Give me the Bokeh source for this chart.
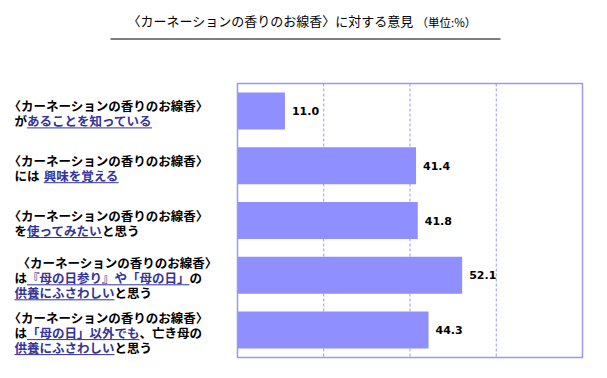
from bokeh.plotting import figure
from bokeh.models import Range1d, ColumnDataSource
from bokeh.core.properties import value
from bokeh.embed import file_html
from bokeh.resources import INLINE

# ---------------- data ----------------
title_text = "〈カーネーションの香りのお線香〉に対する意見"
unit_text = "（単位:%）"
categories = [
    "〈カーネーションの香りのお線香〉があることを知っている",
    "〈カーネーションの香りのお線香〉には 興味を覚える",
    "〈カーネーションの香りのお線香〉を使ってみたいと思う",
    "〈カーネーションの香りのお線香〉は『母の日参り』や「母の日」の供養にふさわしいと思う",
    "〈カーネーションの香りのお線香〉は「母の日」以外でも、亡き母の供養にふさわしいと思う",
]
values = [11.0, 41.4, 41.8, 52.1, 44.3]
grid_ticks = [20, 40, 60]
x_max = 80

# label lines: list of (text, highlighted) segments per line
head = "〈カーネーションの香りのお線香〉"
label_lines = [
    [[(head, False)], [("が", False), ("あることを知っている", True)]],
    [[(head, False)], [("には ", False), ("興味を覚える", True)]],
    [[(head, False)], [("を", False), ("使ってみたい", True), ("と思う", False)]],
    [[(head, False)], [("は", False), ("『母の日参り』や「母の日」", True), ("の", False)],
     [("供養にふさわしい", True), ("と思う", False)]],
    [[(head, False)], [("は", False), ("「母の日」以外でも", True), ("、亡き母の", False)],
     [("供養にふさわしい", True), ("と思う", False)]],
]

# ---------------- layout ----------------
W, H = 607, 378
FL, FR, FT, FB = 237, 582, 83, 357
N = len(values)
kx = x_max / (FR - FL)
ky = N / (FB - FT)

def X(px):
    return (px - FL) * kx

def Y(py):
    return (py - FT) * ky

BAR = "#8f8fff"
FRAME = "#9999ee"
BLUE = "#333399"
FONT = "Noto Sans CJK JP"
FS = 12.5

p = figure(width=W, height=H, output_backend="svg", toolbar_location=None,
           x_range=Range1d(X(0), X(W)), y_range=Range1d(Y(H), Y(0)),
           x_axis_type=None, y_axis_type=None, min_border=0,
           outline_line_color=None, background_fill_color="white",
           border_fill_color="white")
p.xgrid.visible = False
p.ygrid.visible = False

ys = [i + 0.5 for i in range(N)]

# grid lines + frame
p.segment(x0=grid_ticks, x1=grid_ticks, y0=[0] * len(grid_ticks), y1=[N] * len(grid_ticks),
          line_color=FRAME, line_width=1, line_dash="3 2")
p.hbar(y=ys, left=0, right=values, height=0.675, fill_color=BAR, line_color=None)
p.quad(left=[0], right=[x_max], top=[0], bottom=[N], fill_color=None,
       line_color=FRAME, line_width=1.5)

# value labels
p.text(x=[v + 7 * kx for v in values], y=ys, text=[f"{v:.1f}" for v in values],
       text_font=value("DejaVu Sans"), text_font_style="bold", text_font_size="11px",
       text_baseline="middle", text_align="left", text_color="black")

# category labels
def wid(s):
    return sum(1.0 if ord(c) > 255 else 0.33 for c in s) * FS

seg = dict(x=[], y=[], text=[], color=[])
ul = dict(x0=[], x1=[], y=[])
for i, lines in enumerate(label_lines):
    n = len(lines)
    cpy = FT + (i + 0.5) * (FB - FT) / N
    for k, line in enumerate(lines):
        py = cpy + 2 + (k - (n - 1) / 2) * 15
        px = 8 if line[0][0].startswith("〈") else 14
        if i == 3 and k == 0:
            px += 9
        for txt, hi in line:
            seg["x"].append(X(px))
            seg["y"].append(Y(py))
            seg["text"].append(txt)
            seg["color"].append(BLUE if hi else "black")
            w = wid(txt)
            if hi:
                ul["x0"].append(X(px))
                ul["x1"].append(X(px + w))
                ul["y"].append(Y(py + 7.5))
            px += w

p.text(x="x", y="y", text="text", text_color="color", source=ColumnDataSource(seg),
       text_font=value(FONT), text_font_style="bold", text_font_size=f"{FS}px",
       text_baseline="middle", text_align="left")
p.segment(x0=ul["x0"], x1=ul["x1"], y0=ul["y"], y1=ul["y"], line_color=BLUE, line_width=1)

# title
p.text(x=[X(127)], y=[Y(20)], text=[title_text], text_font=value(FONT),
       text_font_size="13px", text_baseline="middle", text_align="left", text_color="black")
p.text(x=[X(127 + 22 * 13 + 3)], y=[Y(21)], text=[unit_text], text_font=value(FONT),
       text_font_size="11.5px", text_baseline="middle", text_align="left", text_color="black")
p.segment(x0=[X(110)], x1=[X(500)], y0=[Y(38.5)], y1=[Y(38.5)], line_color="black", line_width=1)

open("out.html", "w").write(file_html(p, INLINE))
